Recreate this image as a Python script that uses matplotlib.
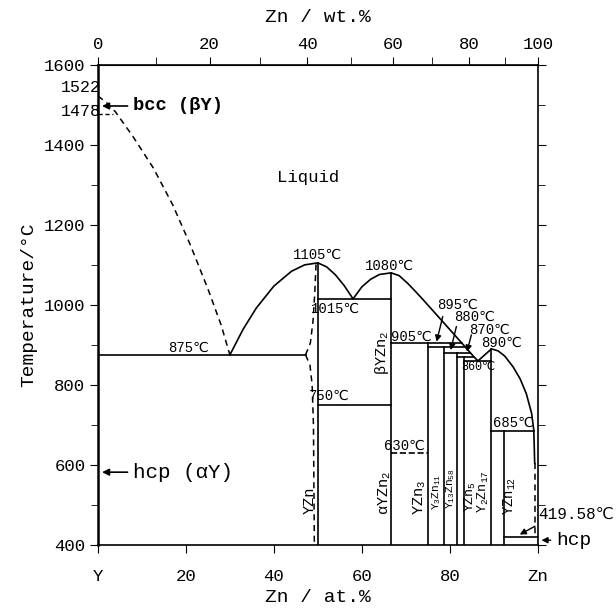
import matplotlib.pyplot as plt
import numpy as np

plt.rcParams['font.family'] = ['Liberation Mono', 'DejaVu Sans Mono', 'DejaVu Sans', 'Noto Sans CJK SC']
plt.rcParams['mathtext.fontset'] = 'custom'
plt.rcParams['mathtext.rm'] = 'Liberation Mono'
plt.rcParams['mathtext.default'] = 'rm'

# liquidus on the Y side (dashed, estimated)
liq_y_x = [0, 2, 4, 8, 12.6, 17, 21, 25, 28, 30]
liq_y_t = [1522, 1505, 1482, 1420, 1342, 1250, 1150, 1040, 950, 875]

# measured liquidus from the eutectic to the Zn side
liq_x = [30, 33, 36, 40, 44, 47, 50, 52, 54, 56, 58, 60, 62, 64, 66.67,
         68.5, 70.5, 72.5, 74, 78, 82.7, 83.5, 84.7, 85.5, 86.4, 89.47,
         91, 92.5, 94.4, 96, 97.4, 98.6, 99.1, 99.3]
liq_t = [875, 939, 992, 1047, 1084, 1100, 1105, 1095, 1075, 1048, 1015, 1045, 1064, 1076, 1080,
         1073, 1053, 1030, 1012, 963, 905, 895, 880, 870, 860, 890,
         885, 872, 845, 815, 778, 729, 687, 604]

# YZn homogeneity range (dashed)
yzn_up_x = [47.2, 48.3, 48.9, 49.3, 49.6]
yzn_up_t = [875, 905, 960, 1030, 1105]
yzn_lo_x = [47.2, 48.2, 48.7, 49.0, 49.2]
yzn_lo_t = [875, 850, 800, 700, 400]

# invariant reactions
inv_t = [875, 1015, 750, 905, 630, 895, 880, 870, 860, 685, 419.58]
inv_l = [0, 50, 50, 66.67, 66.67, 75, 78.57, 81.69, 83.33, 89.47, 92.31]
inv_r = [47.2, 66.67, 66.67, 82.7, 75, 83.5, 84.7, 85.5, 89.47, 99.1, 100]
inv_dash = [False, False, False, False, True, False, False, False, False, False, False]

# compounds
comp_x = [50, 66.67, 75, 78.57, 81.69, 83.33, 89.47, 92.31]
comp_top = [1105, 1080, 905, 895, 880, 870, 890, 685]
comp_names = ['YZn', r'$\alpha$YZn$_2$', 'YZn$_3$', 'Y$_3$Zn$_{11}$', 'Y$_{13}$Zn$_{58}$',
              'YZn$_5$', 'Y$_2$Zn$_{17}$', 'YZn$_{12}$']
comp_lx = [48.2, 65.3, 73.2, 76.9, 80.2, 84.6, 87.7, 93.6]
comp_ly = [512, 530, 520, 532, 542, 520, 532, 522]
comp_fs = [11, 11, 11, 8, 8, 9.5, 9.5, 10]

# temperature labels
tl_text = ['875℃', '1105℃', '1015℃', '1080℃', '750℃', '905℃', '630℃', '890℃', '685℃']
tl_x = [20.5, 50, 54, 66.3, 52.7, 71.2, 69.6, 91.7, 94.4]
tl_t = [893, 1125, 990, 1098, 772, 920, 647, 906, 704]

# arrowed labels: text position, arrow tail, arrow head
al_text = ['895℃', '880℃', '870℃']
al_x = [81.8, 85.7, 89.1]
al_t = [1000, 971, 937]
al_tx = [78.4, 81.5, 84.9]
al_tt = [971, 946, 925]
al_hx = [77.0, 80.2, 83.9]
al_ht = [908, 887, 883]

fig = plt.figure(figsize=(6.16, 6.11), dpi=100)
ax = fig.add_axes([0.159, 0.108, 0.714, 0.786])

ax.plot(liq_y_x, liq_y_t, 'k--', lw=1.1, dashes=(4, 3))
ax.plot(liq_x, liq_t, 'k-', lw=1.2)
ax.plot([99.4, 99.4], [604, 420], 'k--', lw=1.1, dashes=(4, 3))
ax.plot(yzn_up_x, yzn_up_t, 'k--', lw=1.1, dashes=(4, 3))
ax.plot(yzn_lo_x, yzn_lo_t, 'k--', lw=1.1, dashes=(4, 3))
ax.plot([0, 3.5], [1478, 1478], 'k--', lw=1.0, dashes=(3, 2))

for t, l, r, d in zip(inv_t, inv_l, inv_r, inv_dash):
    ax.plot([l, r], [t, t], 'k--' if d else 'k-', lw=1.2)

for x, top in zip(comp_x, comp_top):
    ax.plot([x, x], [400, top], 'k-', lw=1.2)

for s, x, t, fs in zip(comp_names, comp_lx, comp_ly, comp_fs):
    ax.text(x, t, s, rotation=90, ha='center', va='center', fontsize=fs)
ax.text(64.6, 880, r'$\beta$YZn$_2$', rotation=90, ha='center', va='center', fontsize=11)

for s, x, t in zip(tl_text, tl_x, tl_t):
    ax.text(x, t, s, ha='center', va='center', fontsize=10)
ax.text(86.4, 846, '860℃', ha='center', va='center', fontsize=8.5)

for s, x, t, tx, tt, hx, ht in zip(al_text, al_x, al_t, al_tx, al_tt, al_hx, al_ht):
    ax.text(x, t, s, ha='center', va='center', fontsize=10)
    ax.annotate('', xy=(hx, ht), xytext=(tx, tt),
                arrowprops=dict(arrowstyle='-|>', lw=1.0, color='k', mutation_scale=9,
                                shrinkA=0, shrinkB=0))

ax.text(47.7, 1318, 'Liquid', ha='center', va='center', fontsize=12.5)
ax.text(0.6, 1542, '1522', ha='right', va='center', fontsize=12, clip_on=False)
ax.text(0.6, 1483, '1478', ha='right', va='center', fontsize=12, clip_on=False)
ax.annotate('bcc (βY)', xy=(0.3, 1497), xytext=(8, 1497), ha='left', va='center',
            fontsize=13.5, fontweight='bold',
            arrowprops=dict(arrowstyle='-|>', lw=1.2, color='k', mutation_scale=10))
ax.annotate('hcp (αY)', xy=(0.3, 582), xytext=(8, 582), ha='left', va='center', fontsize=15,
            arrowprops=dict(arrowstyle='-|>', lw=1.2, color='k', mutation_scale=10))
ax.annotate('419.58℃', xy=(95.9, 426), xytext=(108.8, 476), ha='center', va='center',
            fontsize=11.5, annotation_clip=False,
            arrowprops=dict(arrowstyle='-|>', lw=1.0, color='k', mutation_scale=9, shrinkB=0,
                            relpos=(0.05, 0.0)))
ax.annotate('hcp', xy=(100.2, 412), xytext=(104.2, 412), ha='left', va='center',
            fontsize=14, annotation_clip=False,
            arrowprops=dict(arrowstyle='-|>', lw=1.0, color='k', mutation_scale=9))

ax.set_xlim(0, 100)
ax.set_ylim(400, 1600)
ax.set_xticks([0, 20, 40, 60, 80, 100])
ax.set_xticklabels(['Y', '20', '40', '60', '80', 'Zn'])
ax.set_yticks(np.arange(400, 1601, 200))
ax.set_yticks(np.arange(400, 1601, 100), minor=True)
ax.tick_params(axis='both', which='both', direction='out', labelsize=12.5)
ax.tick_params(axis='x', which='major', length=6, pad=11)
ax.tick_params(axis='y', which='major', length=6, pad=3)
ax.tick_params(axis='y', which='minor', length=5)
ax.tick_params(right=True, which='both')
ax.set_ylabel('Temperature/°C', fontsize=14, labelpad=5)
ax.set_xlabel('Zn / at.%', fontsize=14, labelpad=4)
for s in ['top', 'bottom', 'right']:
    ax.spines[s].set_linewidth(1.2)
ax.spines['left'].set_linewidth(1.8)


def at2wt(a):
    a = np.asarray(a, dtype=float)
    return 100 * a * 65.38 / (a * 65.38 + (100 - a) * 88.906)


def wt2at(w):
    w = np.asarray(w, dtype=float)
    return 100 * (w / 65.38) / (w / 65.38 + (100 - w) / 88.906)


sec = ax.secondary_xaxis('top', functions=(at2wt, wt2at))
sec.set_xticks([0, 20, 40, 60, 80, 100])
sec.set_xticks(np.arange(0, 101, 10), minor=True)
sec.tick_params(which='both', direction='out', labelsize=12.5, length=6, pad=3)
sec.set_xlabel('Zn / wt.%', fontsize=14, labelpad=11)

fig.savefig('out.png', dpi=100)
